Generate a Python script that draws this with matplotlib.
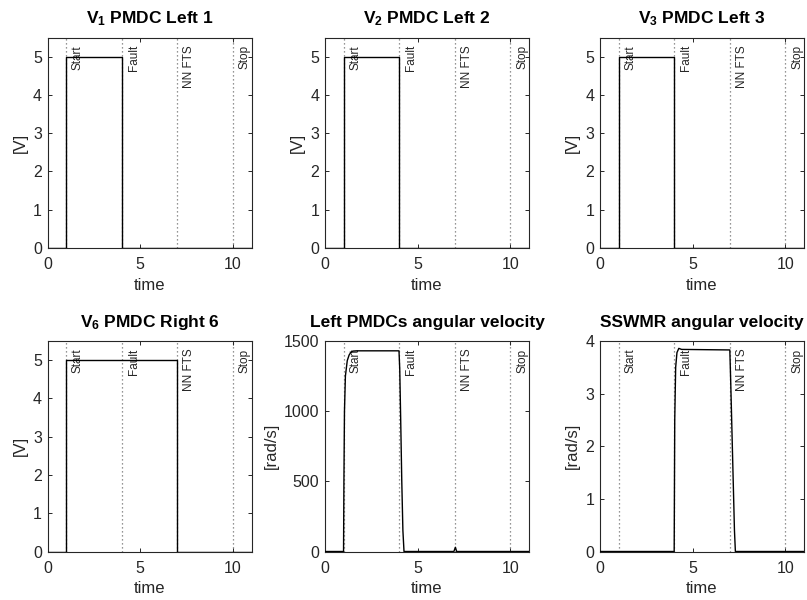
import matplotlib
matplotlib.use("Agg")
import matplotlib.pyplot as plt

plt.rcParams['font.family'] = ['Liberation Sans', 'DejaVu Sans']
plt.rcParams['mathtext.fontset'] = 'custom'
plt.rcParams['mathtext.rm'] = 'Liberation Sans'
plt.rcParams['mathtext.bf'] = 'Liberation Sans:bold'

# Event markers
event_times = [1, 4, 7, 10]
event_labels = ["Start", "Fault", "NN FTS", "Stop"]

# Motor voltage commands
v1_t = [0, 1, 1, 4, 4, 11]
v1_v = [0, 0, 5, 5, 0, 0]
v2_t = [0, 1, 1, 4, 4, 11]
v2_v = [0, 0, 5, 5, 0, 0]
v3_t = [0, 1, 1, 4, 4, 11]
v3_v = [0, 0, 5, 5, 0, 0]
v6_t = [0, 1, 1, 7, 7, 11]
v6_v = [0, 0, 5, 5, 0, 0]

# Left PMDC angular velocity [rad/s]
wl_t = [0, 1.0, 1.02, 1.05, 1.1, 1.2, 1.3, 1.4, 1.5, 1.7, 3.99, 4.03, 4.08,
        4.14, 4.2, 4.26, 6.95, 7.03, 7.1, 11]
wl_v = [0, 0, 500, 1000, 1250, 1360, 1400, 1420, 1428, 1430, 1430, 1300, 950,
        500, 150, 0, 0, 30, 0, 0]

# SSWMR angular velocity [rad/s]
ws_t = [0, 4.0, 4.03, 4.08, 4.15, 4.25, 4.4, 7.0, 7.05, 7.15, 7.25, 7.3, 11]
ws_v = [0, 0, 2.5, 3.5, 3.78, 3.86, 3.84, 3.83, 3.2, 1.8, 0.4, 0, 0]

panels = [
    (r"$\mathbf{V_1}$ PMDC Left 1", v1_t, v1_v, "[V]", (0, 5.5), [0, 1, 2, 3, 4, 5]),
    (r"$\mathbf{V_2}$ PMDC Left 2", v2_t, v2_v, "[V]", (0, 5.5), [0, 1, 2, 3, 4, 5]),
    (r"$\mathbf{V_3}$ PMDC Left 3", v3_t, v3_v, "[V]", (0, 5.5), [0, 1, 2, 3, 4, 5]),
    (r"$\mathbf{V_6}$ PMDC Right 6", v6_t, v6_v, "[V]", (0, 5.5), [0, 1, 2, 3, 4, 5]),
    ("Left PMDCs angular velocity", wl_t, wl_v, "[rad/s]", (0, 1500), [0, 500, 1000, 1500]),
    ("SSWMR angular velocity", ws_t, ws_v, "[rad/s]", (0, 4), [0, 1, 2, 3, 4]),
]

W, H = 807, 600
fig = plt.figure(figsize=(W / 100, H / 100), dpi=100)

col_left = [47.5, 325, 600]
row_top = [37.5, 341]
ax_w, ax_h = 204, 210.5

for i, (title, t, v, ylab, ylim, yticks) in enumerate(panels):
    r, c = divmod(i, 3)
    ax = fig.add_axes([col_left[c] / W, 1 - (row_top[r] + ax_h) / H, ax_w / W, ax_h / H])
    for et, el in zip(event_times, event_labels):
        ax.axvline(et, color='0.45', linestyle=(0, (1, 2.2)), linewidth=0.9, zorder=1)
        ax.annotate(el, xy=(et, 1), xycoords=('data', 'axes fraction'),
                    xytext=(8.6, -5.5), textcoords='offset points',
                    rotation=90, ha='center', va='top', fontsize=8.5, color='0.15')
    ax.plot(t, v, color='black', linewidth=1.0, zorder=3)
    ax.set_xlim(0, 11)
    ax.set_ylim(*ylim)
    ax.set_xticks([0, 5, 10])
    ax.set_yticks(yticks)
    ax.tick_params(direction='in', top=True, right=True, length=3, width=0.7,
                   labelsize=11.5, colors='0.15')
    ax.tick_params(axis='x', pad=6.5)
    ax.tick_params(axis='y', pad=4)
    for s in ax.spines.values():
        s.set_color('0.15')
        s.set_linewidth(0.8)
    ax.set_xlabel("time", fontsize=12, color='0.15', labelpad=4)
    ax.set_ylabel(ylab, fontsize=12, color='0.15', labelpad=4)
    ax.set_title(title, fontsize=12.5, fontweight='bold', pad=10)

fig.savefig("out.png", dpi=100)
